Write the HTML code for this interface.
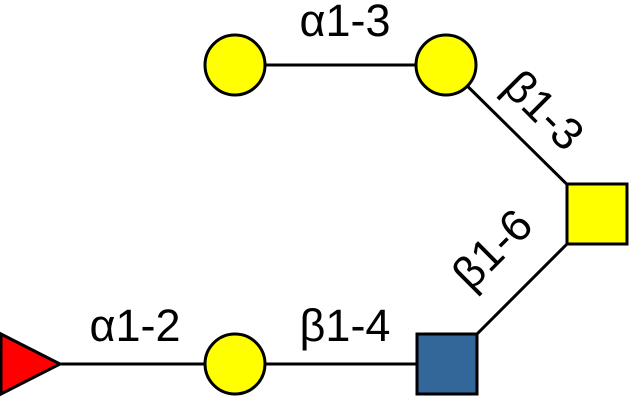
<!DOCTYPE html>
<html><head><style>body{margin:0;background:#fff}</style></head><body>
<svg width="630" height="400" xmlns="http://www.w3.org/2000/svg" font-family="Liberation Sans, sans-serif" font-size="45">
<g stroke="#000" stroke-width="3">
<line x1="235" y1="65" x2="446" y2="65"/>
<line x1="446" y1="65" x2="597" y2="214"/>
<line x1="597" y1="214" x2="447" y2="364"/>
<line x1="30" y1="364" x2="447" y2="364"/>
</g>
<g stroke="#000" stroke-width="3">
<circle cx="235" cy="65" r="30" fill="#ffff00"/>
<circle cx="446" cy="65" r="30" fill="#ffff00"/>
<circle cx="235" cy="364" r="30" fill="#ffff00"/>
<rect x="567" y="184" width="60" height="60" fill="#ffff00"/>
<rect x="417" y="334" width="60" height="60" fill="#336699"/>
<polygon points="1,334 60,364 1,394" fill="#ff0000"/>
</g>
<g fill="#000" text-anchor="middle">
<text x="345" y="36">α1-3</text>
<text x="135" y="341">α1-2</text>
<text x="345" y="341">β1-4</text>
<text transform="translate(533,121) rotate(45)">β1-3</text>
<text transform="translate(503,260) rotate(-45)">β1-6</text>
</g>
</svg>
</body></html>
